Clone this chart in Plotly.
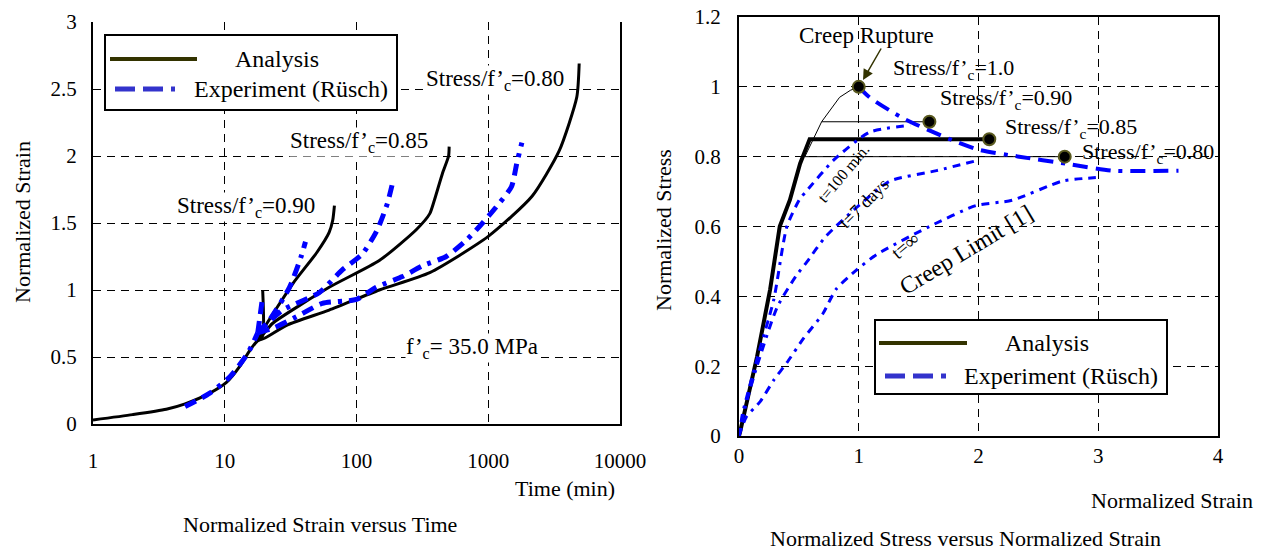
import plotly.graph_objects as go

# ---- left panel: normalized strain vs time (log) ----
base_t = [1, 2, 3.6, 5, 7.7, 10.3, 13, 15.5, 17.7]
base_y = [0.03, 0.07, 0.11, 0.15, 0.23, 0.31, 0.43, 0.55, 0.62]

ana_080_t = base_t + [20, 30, 62, 149, 360, 1000, 2150, 3460, 4700, 4900]
ana_080_y = base_y + [0.64, 0.74, 0.85, 1.0, 1.13, 1.40, 1.70, 2.04, 2.44, 2.69]
ana_085_t = [17.7, 20, 23, 62, 149, 284, 360, 390, 449, 500, 505]
ana_085_y = [0.62, 0.68, 0.75, 1.02, 1.22, 1.45, 1.57, 1.67, 1.87, 2.0, 2.07]
ana_090_t = [17.7, 20, 33, 50, 62, 66, 68]
ana_090_y = [0.62, 0.72, 1.05, 1.28, 1.43, 1.52, 1.63]
ana_100_t = [17.7, 19.4, 19.4]
ana_100_y = [0.62, 0.66, 1.0]

exp_base_t = [5, 7.7, 10.9, 15, 17.8]
exp_base_y = [0.13, 0.23, 0.35, 0.53, 0.68]
exp_100_t = [17.8, 19.4]
exp_100_y = [0.68, 0.95]
exp_090_t = [17.8, 22, 31, 38, 41]
exp_090_y = [0.68, 0.78, 1.02, 1.25, 1.36]
exp_085_t = [17.8, 27.5, 52, 78, 111, 144, 172, 190]
exp_085_y = [0.68, 0.85, 0.98, 1.15, 1.27, 1.45, 1.65, 1.82]
exp_080_t = [17.8, 24, 35, 55, 100, 141, 223, 316, 480, 680, 850, 1150, 1500, 1650, 1800]
exp_080_y = [0.68, 0.72, 0.80, 0.90, 0.93, 1.02, 1.10, 1.18, 1.25, 1.37, 1.47, 1.62, 1.77, 1.95, 2.10]

time_ticks = [1, 10, 100, 1000, 10000]
time_labels = ["1", "10", "100", "1000", "10000"]

# ---- right panel: normalized stress vs normalized strain ----
ss_main_x = [0, 0.008, 0.15, 0.26, 0.34, 0.425, 0.51, 0.59, 2.09]
ss_main_y = [0, 0.01, 0.226, 0.42, 0.60, 0.676, 0.78, 0.85, 0.85]
ss_rup_x = [0.55, 0.69, 0.84, 0.93, 1.0]
ss_rup_y = [0.80, 0.90, 0.97, 0.99, 1.0]
ss_090_x = [0.69, 1.59]
ss_090_y = [0.90, 0.90]
ss_080_x = [0.55, 2.72]
ss_080_y = [0.80, 0.80]
rupture_x = [1.0, 1.59, 2.09, 2.72]
rupture_y = [1.0, 0.90, 0.85, 0.80]

exp_rup_x = [1.0, 1.09, 1.37, 1.76, 2.0, 2.34, 2.73, 3.12, 3.67]
exp_rup_y = [1.0, 0.97, 0.91, 0.85, 0.82, 0.80, 0.78, 0.76, 0.76]
exp_t100_x = [0, 0.03, 0.15, 0.29, 0.40, 0.51, 0.56, 0.79, 1.09, 1.43]
exp_t100_y = [0, 0.065, 0.22, 0.39, 0.60, 0.68, 0.70, 0.79, 0.87, 0.89]
exp_t7d_x = [0, 0.05, 0.15, 0.32, 0.48, 0.57, 0.72, 1.0, 1.26, 1.65, 2.0]
exp_t7d_y = [0, 0.08, 0.20, 0.37, 0.46, 0.50, 0.57, 0.66, 0.73, 0.76, 0.79]
exp_tinf_x = [0, 0.06, 0.18, 0.29, 0.40, 0.54, 0.70, 0.81, 0.98, 1.15, 1.59, 1.98, 2.28, 2.70, 2.98]
exp_tinf_y = [0, 0.054, 0.10, 0.16, 0.21, 0.28, 0.35, 0.42, 0.475, 0.52, 0.60, 0.66, 0.675, 0.73, 0.74]

stress_ticks = [0, 0.2, 0.4, 0.6, 0.8, 1.0, 1.2]
stress_labels = ["0", "0.2", "0.4", "0.6", "0.8", "1", "1.2"]
strain_ticks = [0, 1, 2, 3, 4]

# page body has an 8px margin, so the figure is a bit smaller and shifted
OFF = 8
W, H = 1270 - OFF, 551 - OFF
FONT = "Liberation Serif"
BLUE = "#0000FF"


def px(x):
    return (x - OFF) / W


def py(y):
    return 1 - (y - OFF) / H


fig = go.Figure()

left_dash = "12px,7px,12px,7px,4px,7px"

# analysis curves (left)
for t, y in [(ana_080_t, ana_080_y), (ana_085_t, ana_085_y),
             (ana_090_t, ana_090_y), (ana_100_t, ana_100_y)]:
    fig.add_trace(go.Scatter(x=t, y=y, mode="lines",
                             line=dict(color="black", width=3, shape="spline", smoothing=0.6),
                             xaxis="x", yaxis="y", showlegend=False))
# experiment curves (left)
for t, y in [(exp_base_t, exp_base_y), (exp_100_t, exp_100_y), (exp_090_t, exp_090_y),
             (exp_085_t, exp_085_y), (exp_080_t, exp_080_y)]:
    fig.add_trace(go.Scatter(x=t, y=y, mode="lines",
                             line=dict(color=BLUE, width=5, dash=left_dash, shape="spline", smoothing=0.6),
                             xaxis="x", yaxis="y", showlegend=False))

# right panel
for x, y, w in [(ss_rup_x, ss_rup_y, 1), (ss_090_x, ss_090_y, 1),
                (ss_080_x, ss_080_y, 1), (ss_main_x, ss_main_y, 4)]:
    fig.add_trace(go.Scatter(x=x, y=y, mode="lines", line=dict(color="black", width=w),
                             xaxis="x2", yaxis="y2", showlegend=False))
for x, y in [(exp_t100_x, exp_t100_y), (exp_t7d_x, exp_t7d_y), (exp_tinf_x, exp_tinf_y)]:
    fig.add_trace(go.Scatter(x=x, y=y, mode="lines",
                             line=dict(color=BLUE, width=3, dash="8px,6px,8px,6px,3px,6px",
                                       shape="spline", smoothing=0.6),
                             xaxis="x2", yaxis="y2", showlegend=False))
fig.add_trace(go.Scatter(x=exp_rup_x, y=exp_rup_y, mode="lines",
                         line=dict(color=BLUE, width=4, dash="15px,8px,15px,8px,4px,8px",
                                   shape="spline", smoothing=0.6),
                         xaxis="x2", yaxis="y2", showlegend=False))
fig.add_trace(go.Scatter(x=rupture_x, y=rupture_y, mode="markers",
                         marker=dict(color="black", size=12, line=dict(color="#5a5a20", width=2)),
                         xaxis="x2", yaxis="y2", showlegend=False))

grid = dict(showgrid=True, gridcolor="black", gridwidth=1, griddash="8px,6px",
            zeroline=False, showline=True, linecolor="black", linewidth=2, automargin=False,
            ticks="", ticklabeloverflow="allow",
            tickfont=dict(family=FONT, size=21, color="black"))

fig.update_layout(
    template="none",
    width=W, height=H, margin=dict(l=0, r=0, t=0, b=0, pad=0),
    paper_bgcolor="white", plot_bgcolor="white", showlegend=False,
    font=dict(family=FONT, size=21, color="black"),
    xaxis=dict(grid, type="log", range=[0, 4], tickvals=time_ticks, ticktext=time_labels,
               domain=[px(93), px(620)], anchor="y", ticklabelstandoff=17),
    yaxis=dict(grid, range=[0, 3], dtick=0.5, domain=[py(424), py(22)], anchor="x",
               mirror=True, ticklabelstandoff=10),
    xaxis2=dict(grid, range=[0, 4], tickvals=strain_ticks, domain=[px(739), px(1218)],
                anchor="y2", mirror=True, ticklabelstandoff=0),
    yaxis2=dict(grid, range=[0, 1.2], tickvals=stress_ticks, ticktext=stress_labels,
                domain=[py(436), py(17)], anchor="x2", mirror=True, ticklabelstandoff=12),
)

ann = []


def text(x, y, s, size=23, angle=0, bg=None, xanchor="center"):
    ann.append(dict(x=px(x), y=py(y), xref="paper", yref="paper", text=s, showarrow=False,
                    font=dict(family=FONT, size=size, color="black"), textangle=angle,
                    bgcolor=bg, xanchor=xanchor, yanchor="middle", borderpad=0))


text(495, 80, "Stress/f’<sub>c</sub>=0.80", bg="white")
text(359, 142, "Stress/f’<sub>c</sub>=0.85", bg="white")
text(246, 207, "Stress/f’<sub>c</sub>=0.90", bg="white")
text(472, 348, "f’<sub>c</sub>= 35.0 MPa", bg="white")
text(565, 488, "Time (min)", size=22)
text(22, 222, "Normalized Strain", size=22, angle=-90)
text(320, 524, "Normalized Strain versus Time", size=22)

text(866, 36, "Creep Rupture")
text(953, 69, "Stress/f’<sub>c</sub>=1.0", size=22)
text(1006, 99, "Stress/f’<sub>c</sub>=0.90", size=22)
text(1071, 128, "Stress/f’<sub>c</sub>=0.85", size=22)
text(1148, 153, "Stress/f’<sub>c</sub>=0.80", size=22)
text(843, 173, "t=100 min.", size=16, angle=-50)
text(864, 203, "t=7 days", size=18, angle=-45)
text(905, 245, "t=∞", size=19, angle=-40)
text(966, 250, "Creep Limit [1]", size=24, angle=-31)
text(1172, 500, "Normalized Strain", size=22)
text(663, 230, "Normalized Stress", size=22, angle=-90)
text(965, 538, "Normalized Stress versus Normalized Strain", size=22)

ann.append(dict(x=px(863), y=py(80), xref="paper", yref="paper", ax=19, ay=-33,
                showarrow=True, arrowhead=2, arrowsize=1.4, arrowwidth=1.5,
                arrowcolor="#333300", text=""))

# hand-drawn legends
shapes = []


def legend(x0, y0, x1, y1, l1, l2, t1x, t2x, ya, yb):
    shapes.append(dict(type="rect", xref="paper", yref="paper", x0=px(x0), x1=px(x1),
                       y0=py(y1), y1=py(y0), line=dict(color="black", width=2),
                       fillcolor="white", layer="above"))
    shapes.append(dict(type="line", xref="paper", yref="paper", x0=px(l1[0]), x1=px(l1[1]),
                       y0=py(ya), y1=py(ya), line=dict(color="#333300", width=4), layer="above"))
    shapes.append(dict(type="line", xref="paper", yref="paper", x0=px(l2[0]), x1=px(l2[1]),
                       y0=py(yb), y1=py(yb), layer="above",
                       line=dict(color="#3333CC", width=5, dash="20px,8px,20px,8px,5px,200px")))
    text(t1x, ya, "Analysis", size=24)
    text(t2x, yb, "Experiment (Rüsch)", size=24, xanchor="left")


legend(105, 35, 397, 110, (110, 197), (115, 175), 277, 193, 59, 89)
legend(875, 320, 1167, 394, (879, 967), (885, 947), 1047, 963, 343, 376)

fig.update_layout(annotations=ann, shapes=shapes)
fig.write_html("out.html")
